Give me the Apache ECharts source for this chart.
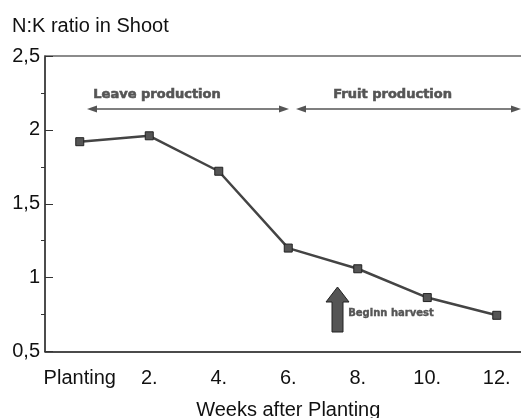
<!DOCTYPE html>
<html>
<head>
<meta charset="utf-8">
<script src="https://cdn.jsdelivr.net/npm/echarts@6/dist/echarts.min.js"></script>
<style>
  html, body { margin: 0; padding: 0; background: #fff; }
  #container { width: 521px; height: 418px; }
</style>
</head>
<body>
<div id="container"></div>
<script>
  var dom = document.getElementById("container");
  var myChart = echarts.init(dom);

  // data
  var weeks = ['Planting', '2.', '4.', '6.', '8.', '10.', '12.'];
  var nkRatio = [1.92, 1.96, 1.72, 1.20, 1.06, 0.865, 0.745];

  var font = 'Liberation Sans, Arial, sans-serif';
  var boldFont = 'DejaVu Sans, sans-serif';
  var grey = '#555';

  // double headed arrow made of a line and two triangles
  function dblArrow(x1, x2, y) {
    return [
      { type: 'line', shape: { x1: x1 + 6, y1: y, x2: x2 - 6, y2: y },
        style: { stroke: grey, lineWidth: 1.5 } },
      { type: 'polygon', shape: { points: [[x1, y], [x1 + 10, y - 3.5], [x1 + 10, y + 3.5]] },
        style: { fill: grey } },
      { type: 'polygon', shape: { points: [[x2, y], [x2 - 10, y - 3.5], [x2 - 10, y + 3.5]] },
        style: { fill: grey } }
    ];
  }

  var graphics = [].concat(
    dblArrow(87, 289, 109),
    dblArrow(296, 521, 109),
    [
      { type: 'text', left: 93, top: 88,
        style: { text: 'Leave production', fill: grey, font: 'bold 13px ' + boldFont,
                 stroke: grey, lineWidth: 0.6 } },
      { type: 'text', left: 333, top: 88,
        style: { text: 'Fruit production', fill: grey, font: 'bold 13px ' + boldFont,
                 stroke: grey, lineWidth: 0.6 } },
      // block arrow "Beginn harvest"
      { type: 'polygon',
        shape: { points: [[332, 332], [332, 302], [326, 302], [337.5, 287], [349, 302], [343, 302], [343, 332]] },
        style: { fill: '#555', stroke: '#222', lineWidth: 1 } },
      { type: 'text', left: 348, top: 308,
        style: { text: 'Beginn harvest', fill: grey, font: 'bold 10px ' + boldFont,
                 stroke: grey, lineWidth: 0.4 } }
    ]
  );

  option = {
    animation: false,
    backgroundColor: '#fff',
    title: {
      text: 'N:K ratio in Shoot',
      left: 7,
      top: 11,
      textStyle: { fontFamily: font, fontSize: 20, fontWeight: 'normal', color: '#111' }
    },
    grid: {
      left: 45,
      top: 56,
      width: 486.5,
      height: 295.5,
      outerBoundsMode: 'none'
    },
    xAxis: [{
      type: 'category',
      data: weeks,
      boundaryGap: true,
      name: 'Weeks after Planting',
      nameLocation: 'middle',
      nameGap: 49,
      nameTextStyle: { fontFamily: font, fontSize: 20, color: '#111' },
      axisLine: { lineStyle: { color: '#111', width: 1.5 } },
      axisTick: { alignWithLabel: true, length: 6, lineStyle: { color: '#555' } },
      axisLabel: { fontFamily: font, fontSize: 20, color: '#111', margin: 17, interval: 0 },
      splitLine: { show: false }
    }, {
      type: 'category',
      position: 'top',
      data: weeks,
      axisLine: { lineStyle: { color: '#666', width: 1.5 } },
      axisTick: { show: false },
      axisLabel: { show: false }
    }],
    yAxis: [{
      type: 'value',
      min: 0.5,
      max: 2.5,
      interval: 0.5,
      axisLine: { show: true, lineStyle: { color: '#111', width: 1.5 } },
      axisTick: { show: true, inside: true, length: 8, lineStyle: { color: '#333' } },
      axisLabel: {
        fontFamily: font, fontSize: 20, color: '#111', margin: 5,
        formatter: function (v) { return String(v).replace('.', ','); }
      },
      splitLine: { show: false }
    }, {
      type: 'value',
      position: 'left',
      min: 0.5,
      max: 2.5,
      interval: 0.5,
      axisLine: { show: false },
      axisTick: { show: false },
      minorTick: { show: true, splitNumber: 2, length: 4, lineStyle: { color: '#333' } },
      axisLabel: { show: false },
      splitLine: { show: false }
    }],
    graphic: graphics,
    series: [{
      type: 'line',
      data: nkRatio,
      symbol: 'rect',
      symbolSize: 8,
      lineStyle: { color: '#444', width: 2.5 },
      itemStyle: { color: '#555', borderColor: '#222', borderWidth: 1 }
    }]
  };

  if (option && typeof option === "object") {
    myChart.setOption(option, true);
  }
</script>
</body>
</html>
